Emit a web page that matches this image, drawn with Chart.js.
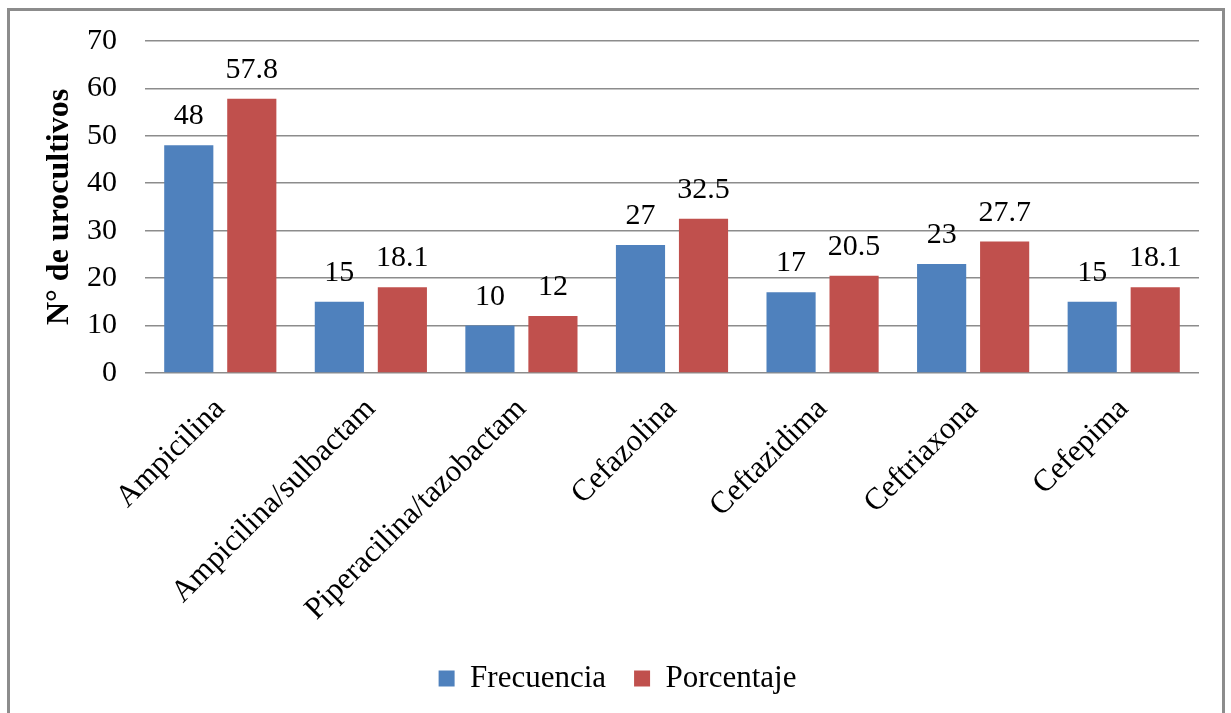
<!DOCTYPE html>
<html>
<head>
<meta charset="utf-8">
<script src="https://cdn.jsdelivr.net/npm/chart.js@4/dist/chart.umd.min.js"></script>
<style>
  body { margin: 0; background: #fff; overflow: hidden; }
  #wrap { position: relative; width: 1231px; height: 713px; }
  #frame {
    position: absolute; left: 7px; top: 8px; width: 1218px; height: 720px;
    border: 3px solid #8c8c8c; box-sizing: border-box; pointer-events: none;
  }
</style>
</head>
<body>
<div id="wrap">
  <canvas id="myChart" width="1231" height="713"></canvas>
  <div id="frame"></div>
</div>
<script>
var ctx = document.getElementById('myChart').getContext('2d');

const categories = ['Ampicilina', 'Ampicilina/sulbactam', 'Piperacilina/tazobactam',
  'Cefazolina', 'Ceftazidima', 'Ceftriaxona', 'Cefepima'];
const frecuencia = [48, 15, 10, 27, 17, 23, 15];
const porcentaje = [57.8, 18.1, 12, 32.5, 20.5, 27.7, 18.1];
const yTicks = [0, 10, 20, 30, 40, 50, 60, 70];

const serif = 'Liberation Serif';

// draws the value above each bar
const barLabels = {
  id: 'barLabels',
  afterDatasetsDraw(chart) {
    const c = chart.ctx;
    c.save();
    c.font = '30px "' + serif + '"';
    c.fillStyle = '#000';
    c.textAlign = 'center';
    c.textBaseline = 'alphabetic';
    chart.data.datasets.forEach((ds, i) => {
      chart.getDatasetMeta(i).data.forEach((bar, j) => {
        c.fillText(String(ds.data[j]), bar.x, bar.y - 21);
      });
    });
    c.restore();
  }
};

const chart = new Chart(ctx, {
  type: 'bar',
  data: {
    labels: categories,
    datasets: [{
      label: 'Frecuencia',
      backgroundColor: '#4F81BD',
      data: frecuencia,
      barPercentage: 0.78,
      categoryPercentage: 0.837
    }, {
      label: 'Porcentaje',
      backgroundColor: '#C0504D',
      data: porcentaje,
      barPercentage: 0.78,
      categoryPercentage: 0.837
    }]
  },
  options: {
    responsive: false,
    animation: false,
    layout: { padding: { left: 36, top: 35, right: 32, bottom: 9 } },
    plugins: {
      tooltip: { enabled: false },
      legend: {
        position: 'bottom',
        labels: {
          boxWidth: 16, boxHeight: 16, padding: 28,
          color: '#000',
          font: { family: serif, size: 31 }
        }
      }
    },
    scales: {
      x: {
        grid: { display: false, drawTicks: false },
        border: { display: false },
        ticks: {
          color: '#000', maxRotation: 45, minRotation: 45, padding: 18,
          font: { family: serif, size: 31 }
        },
        afterFit(scale) { scale.height = 262; }
      },
      y: {
        min: 0, max: 70,
        afterBuildTicks(scale) { scale.ticks = yTicks.map(v => ({ value: v })); },
        grid: { color: '#8c8c8c', lineWidth: 1.5, drawTicks: false },
        border: { display: false },
        ticks: {
          color: '#000', padding: 28,
          font: { family: serif, size: 30, lineHeight: 0.86 }
        },
        title: {
          display: true, text: 'N° de urocultivos', color: '#000',
          padding: { top: 5, bottom: 0 },
          font: { family: serif, size: 32, weight: 'bold' }
        },
        afterFit(scale) { scale.width = 109; }
      }
    }
  },
  plugins: [barLabels]
});
</script>
</body>
</html>
